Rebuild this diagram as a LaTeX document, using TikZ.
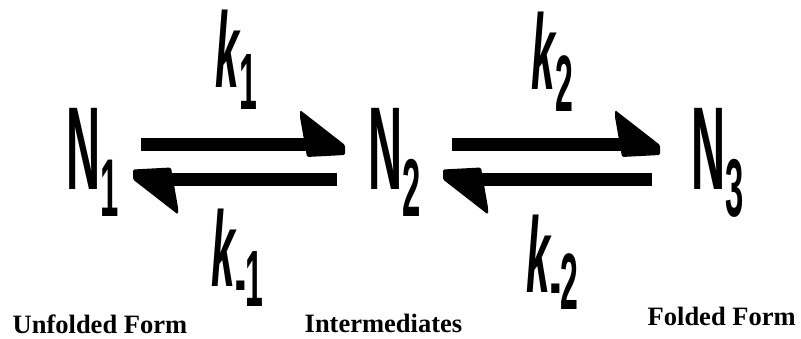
\documentclass[tikz,border=0pt]{standalone}
\usepackage{fontspec}
\usepackage{graphicx}
\setmainfont{Liberation Serif}
\newfontfamily\arialfam{Liberation Sans}
\usetikzlibrary{calc}
\newcommand{\Sp}[2]{\scalebox{0.4}[1]{\arialfam\bfseries\fontsize{118}{118}\selectfont #1\raisebox{-27pt}{\fontsize{82}{82}\selectfont #2}}}
\newcommand{\Rt}[2]{\scalebox{0.4}[1]{\arialfam\bfseries\fontsize{107}{107}\selectfont\itshape k\raisebox{-#1pt}{\upshape\fontsize{80}{80}\selectfont #2}}}
\tikzset{
  species/.style={inner sep=0pt, anchor=base west},
  rate/.style={inner sep=0pt, anchor=base west},
  caption/.style={inner sep=0pt, anchor=base west, text depth=0pt, font=\fontsize{26.5}{30}\selectfont\bfseries},
  shaft/.style={line width=13pt},
  headR/.pic={\fill[rounded corners=1.5pt] (-45,-34.5) -- (0,0.5) -- (0,10.5) -- (-38,12.5) -- (-45,-27.5) -- cycle;}
}
\begin{document}
\begin{tikzpicture}[x=1pt,y=-1pt]
\useasboundingbox (0,0) rectangle (801,339);
% species
\node[species] (N1) at (66.5,190) {\Sp{N}{1}};
\node[species] (N2) at (368.5,190) {\Sp{N}{2}};
\node[species] (N3) at (691.5,190) {\Sp{N}{3}};
% rate constants
\node[rate] (k1)  at (215,88)  {\Rt{22}{1}};
\node[rate] (km1) at (211,287) {\Rt{20}{-1}};
\node[rate] (k2)  at (531,90)  {\Rt{22}{2}};
\node[rate] (km2) at (526,293) {\Rt{17}{-2}};
% captions
\node[caption] (c1) at (12.5,333) {Unfolded Form};
\node[caption] (c2) at (304.5,332) {Intermediates};
\node[caption] (c3) at (647.5,325) {Folded Form};
% arrow end points
\coordinate (f1s) at (141,144.5);
\coordinate (f1t) at (345,144.5);
\coordinate (b1s) at (337,180);
\coordinate (b1t) at (133,180);
\coordinate (f2s) at (452,144.5);
\coordinate (f2t) at (660,144.5);
\coordinate (b2s) at (652,180);
\coordinate (b2t) at (443,180);
% forward arrows
\draw[shaft] (f1s) -- ($(f1t)+(-30,0)$);
\pic at (f1t) {headR};
\draw[shaft] (f2s) -- ($(f2t)+(-30,0)$);
\pic at (f2t) {headR};
% backward arrows
\draw[shaft] (b1s) -- ($(b1t)+(30,0)$);
\pic[rotate=180] at (b1t) {headR};
\draw[shaft] (b2s) -- ($(b2t)+(30,0)$);
\pic[rotate=180] at (b2t) {headR};
\end{tikzpicture}
\end{document}
